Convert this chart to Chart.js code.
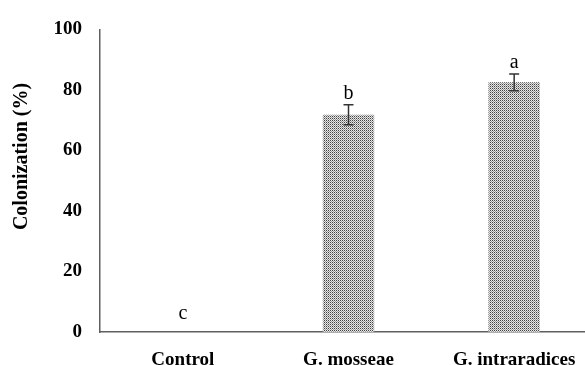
<!DOCTYPE html>
<html>
<head>
<meta charset="utf-8">
<script src="https://cdn.jsdelivr.net/npm/chart.js@4"></script>
<style>
  html, body { margin: 0; padding: 0; background: #fff; overflow: hidden; }
  #wrap { width: 597px; height: 365px; }
</style>
</head>
<body>
<div id="wrap"><canvas id="chart" width="597" height="365"></canvas></div>
<script>
const categories = ['Control', 'G. mosseae', 'G. intraradices'];
const colonization = [0, 71.8, 82.5];
const errors = [0, 3.3, 2.8];
const letters = ['c', 'b', 'a'];
const yTicks = [0, 20, 40, 60, 80, 100];

// dotted fill like the original
function makePattern() {
    const p = document.createElement('canvas');
    p.width = 2;
    p.height = 2;
    const c = p.getContext('2d');
    c.fillStyle = '#e6e6e6';
    c.fillRect(0, 0, 2, 2);
    c.fillStyle = '#444';
    c.fillRect(0, 0, 1, 1);
    c.fillStyle = '#9a9a9a';
    c.fillRect(1, 1, 1, 1);
    return c.createPattern(p, 'repeat');
}

const errorBars = {
    id: 'errorBars',
    afterDatasetsDraw(chart) {
        const ctx = chart.ctx;
        const x = chart.scales.x;
        const y = chart.scales.y;
        ctx.save();
        colonization.forEach((v, i) => {
            const cx = x.getPixelForValue(i);
            const top = y.getPixelForValue(v + errors[i]);
            const bot = y.getPixelForValue(v - errors[i]);
            if (errors[i] > 0) {
                ctx.strokeStyle = '#333';
                ctx.lineWidth = 1.5;
                ctx.beginPath();
                ctx.moveTo(cx, top);
                ctx.lineTo(cx, bot);
                ctx.moveTo(cx - 5, top);
                ctx.lineTo(cx + 5, top);
                ctx.moveTo(cx - 5, bot);
                ctx.lineTo(cx + 5, bot);
                ctx.stroke();
            }
            ctx.fillStyle = '#000';
            ctx.font = '20px "Liberation Serif"';
            ctx.textAlign = 'center';
            ctx.textBaseline = 'alphabetic';
            ctx.fillText(letters[i], cx, top - (errors[i] > 0 ? 6 : 13));
        });
        // y axis title
        const area = chart.chartArea;
        ctx.translate(22, area.top + (area.bottom - area.top) * 0.42);
        ctx.rotate(-Math.PI / 2);
        ctx.font = 'bold 20px "Liberation Serif"';
        ctx.textBaseline = 'middle';
        ctx.fillText('Colonization (%)', 0, 0);
        ctx.restore();
    }
};

const ctx = document.getElementById('chart').getContext('2d');
new Chart(ctx, {
    type: 'bar',
    data: {
        labels: categories,
        datasets: [{
            data: colonization,
            backgroundColor: makePattern(),
            borderWidth: 0,
            categoryPercentage: 1,
            barPercentage: 0.31
        }]
    },
    options: {
        responsive: false,
        animation: false,
        layout: { padding: { top: 23, right: 0, left: 0, bottom: 0 } },
        plugins: { legend: { display: false }, tooltip: { enabled: false } },
        scales: {
            x: {
                grid: { display: false, drawTicks: false },
                border: { display: true, color: '#5f5f5f', width: 1.5 },
                ticks: {
                    color: '#000',
                    padding: 17,
                    maxRotation: 0,
                    font: { family: 'Liberation Serif', size: 19, weight: 'bold' }
                },
                afterFit(scale) { scale.height = 33; }
            },
            y: {
                min: 0,
                max: 100,
                afterBuildTicks(scale) { scale.ticks = yTicks.map(v => ({ value: v })); },
                grid: { display: false, drawTicks: false },
                border: { display: true, color: '#5f5f5f', width: 1.5 },
                ticks: {
                    color: '#000',
                    padding: 18,
                    font: { family: 'Liberation Serif', size: 19, weight: 'bold' }
                },
                afterFit(scale) { scale.width = 100; }
            }
        }
    },
    plugins: [errorBars]
});
</script>
</body>
</html>
